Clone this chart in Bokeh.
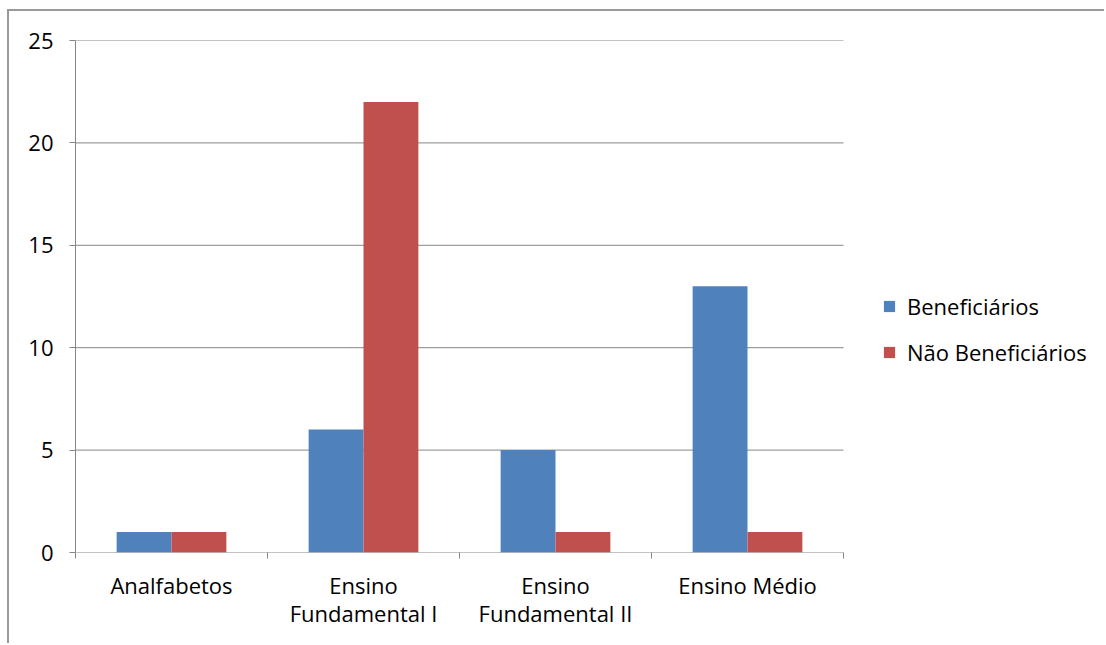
from bokeh.plotting import figure
from bokeh.models import ColumnDataSource, FixedTicker, Range1d, Legend, LegendItem
from bokeh.embed import file_html
from bokeh.resources import INLINE

categories = ["Analfabetos", "Ensino\nFundamental I", "Ensino\nFundamental II", "Ensino Médio"]
beneficiarios = [1, 6, 5, 13]
nao_beneficiarios = [1, 22, 1, 1]
series_names = ["Beneficiários", "Não Beneficiários"]
colors = ["#4F81BD", "#C0504D"]
y_ticks = [0, 5, 10, 15, 20, 25]

FONT = "Open Sans"
FS = "22px"
GRID = "#868686"

n = len(categories)
centers = [i + 0.5 for i in range(n)]
bw = 1 / 3.5

W, H = 1097, 634
LEFT = 66
# the frame extends to the right edge so the legend can live inside it;
# the categories occupy 768 px of it
x_end = n * (W - LEFT) / 768

p = figure(width=W, height=H, output_backend="svg", toolbar_location=None,
           x_range=Range1d(0, x_end), y_range=Range1d(0, 25),
           min_border_left=LEFT, min_border_top=29, min_border_bottom=93, min_border_right=0,
           margin=(9, 0, 0, 7))
p.styles = {"border-top": "2px solid #9a9a9a", "border-left": "2px solid #9a9a9a"}
p.outline_line_color = None
p.background_fill_color = "white"
p.border_fill_color = "white"
p.xgrid.visible = False
p.ygrid.visible = False

# horizontal gridlines limited to the category area
p.segment(x0=[0] * len(y_ticks), x1=[n] * len(y_ticks), y0=y_ticks, y1=y_ticks,
          line_color=GRID, line_width=1)

src1 = ColumnDataSource(dict(x=[c - bw / 2 for c in centers], top=beneficiarios))
src2 = ColumnDataSource(dict(x=[c + bw / 2 for c in centers], top=nao_beneficiarios))
r1 = p.vbar(x="x", top="top", width=bw, source=src1, fill_color=colors[0], line_color=None)
r2 = p.vbar(x="x", top="top", width=bw, source=src2, fill_color=colors[1], line_color=None)

# y axis
p.yaxis.ticker = FixedTicker(ticks=y_ticks)
p.yaxis.axis_line_color = GRID
p.yaxis.major_tick_line_color = GRID
p.yaxis.major_tick_out = 6
p.yaxis.major_tick_in = 0
p.yaxis.minor_tick_line_color = None
p.yaxis.major_label_text_font = FONT
p.yaxis.major_label_text_font_size = FS
p.yaxis.major_label_text_color = "black"
p.yaxis.major_label_standoff = 16

# x axis (line drawn by the 0 gridline segment)
p.xaxis.ticker = FixedTicker(ticks=centers, minor_ticks=list(range(n + 1)))
p.xaxis.major_label_overrides = {c: lab for c, lab in zip(centers, categories)}
p.xaxis.axis_line_color = None
p.xaxis.major_tick_line_color = None
p.xaxis.minor_tick_line_color = GRID
p.xaxis.minor_tick_out = 6
p.xaxis.minor_tick_in = 0
p.xaxis.major_label_text_font = FONT
p.xaxis.major_label_text_font_size = FS
p.xaxis.major_label_text_color = "black"
p.xaxis.major_label_standoff = 11
p.xaxis.major_label_text_line_height = 0.95

legend = Legend(items=[LegendItem(label=series_names[0], renderers=[r1]),
                       LegendItem(label=series_names[1], renderers=[r2])],
                location=(807, 185), orientation="vertical")
legend.label_text_font = FONT
legend.label_text_font_size = FS
legend.label_text_color = "black"
legend.glyph_width = 14
legend.glyph_height = 14
legend.label_standoff = 11
legend.spacing = 16
legend.padding = 0
legend.margin = 0
legend.border_line_color = None
legend.background_fill_alpha = 0
p.add_layout(legend, "center")

open("out.html", "w").write(file_html(p, INLINE))
